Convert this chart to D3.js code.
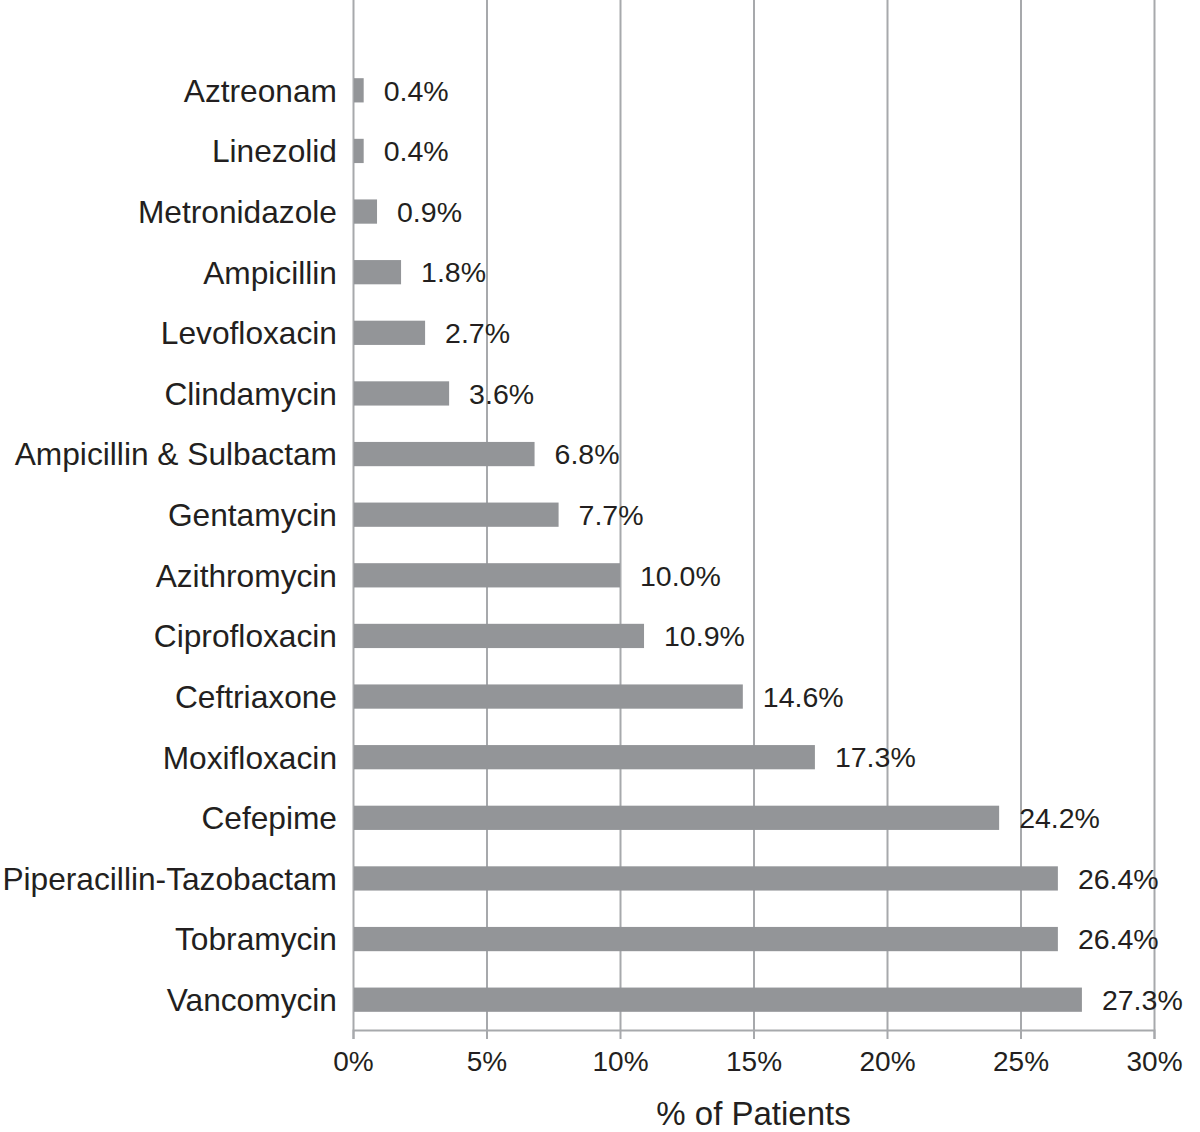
<!DOCTYPE html>
<html>
<head>
<meta charset="utf-8">
<script src="https://cdn.jsdelivr.net/npm/d3@7"></script>
<style>
  body { margin: 0; background: #fff; }
  svg { display: block; font-family: "Liberation Sans", Arial, Helvetica, sans-serif; }
</style>
</head>
<body>
<div id="vis"></div>
<script>
// Data: antibiotics, top to bottom
const DRUGS = ["Aztreonam", "Linezolid", "Metronidazole", "Ampicillin", "Levofloxacin",
               "Clindamycin", "Ampicillin & Sulbactam", "Gentamycin", "Azithromycin",
               "Ciprofloxacin", "Ceftriaxone", "Moxifloxacin", "Cefepime",
               "Piperacillin-Tazobactam", "Tobramycin", "Vancomycin"];
const PCT = [0.4, 0.4, 0.9, 1.8, 2.7, 3.6, 6.8, 7.7, 10.0, 10.9, 14.6, 17.3, 24.2, 26.4, 26.4, 27.3];
const X_TICKS = [0, 5, 10, 15, 20, 25, 30];
const X_TITLE = "% of Patients";

// Frame dimensions
const FRAME_HEIGHT = 1132;
const FRAME_WIDTH = 1200;
const MARGINS = {left: 353, right: 46, top: 60, bottom: 102};

const TEXT_COLOR = "#231f20";
const GRID_COLOR = "#a7a9ac";
const BAR_COLOR = "#939598";

const FRAME = d3.select("#vis")
                .append("svg")
                  .attr("width", FRAME_WIDTH)
                  .attr("height", FRAME_HEIGHT);

const rows = DRUGS.map((d, i) => ({drug: d, pct: PCT[i]}));

// Scales
const X_SCALE = d3.scaleLinear()
                  .domain([0, 30])
                  .range([MARGINS.left, FRAME_WIDTH - MARGINS.right]);

const Y_SCALE = d3.scaleBand()
                  .domain(DRUGS)
                  .range([MARGINS.top, FRAME_HEIGHT - MARGINS.bottom])
                  .paddingInner(0.6)
                  .paddingOuter(0.3);

const AXIS_Y = FRAME_HEIGHT - MARGINS.bottom;

// Vertical gridlines, running from the very top down to the axis
const grid = FRAME.append("g")
    .attr("transform", "translate(0," + AXIS_Y + ")")
    .call(d3.axisBottom(X_SCALE).tickValues(X_TICKS).tickSize(-AXIS_Y).tickFormat(""));
grid.select(".domain").remove();
grid.selectAll("line").attr("stroke", GRID_COLOR).attr("stroke-width", 2);

// Bars
FRAME.selectAll(".bar")
    .data(rows)
    .enter()
    .append("rect")
      .attr("class", "bar")
      .attr("x", X_SCALE(0) + 1)
      .attr("y", (d) => Y_SCALE(d.drug))
      .attr("width", (d) => X_SCALE(d.pct) - X_SCALE(0) - 1)
      .attr("height", Y_SCALE.bandwidth())
      .attr("fill", BAR_COLOR);

// Value labels
FRAME.selectAll(".val")
    .data(rows)
    .enter()
    .append("text")
      .attr("class", "val")
      .attr("x", (d) => X_SCALE(d.pct) + 20)
      .attr("y", (d) => Y_SCALE(d.drug) + Y_SCALE.bandwidth() / 2)
      .attr("dy", "0.36em")
      .attr("fill", TEXT_COLOR)
      .style("font-size", "28.5px")
      .text((d) => d.pct.toFixed(1) + "%");

// X axis with ticks below the line
const xAxis = FRAME.append("g")
    .attr("transform", "translate(0," + AXIS_Y + ")")
    .call(d3.axisBottom(X_SCALE).tickValues(X_TICKS).tickSize(9).tickPadding(12)
            .tickFormat((d) => d + "%"));
xAxis.select(".domain").attr("stroke", GRID_COLOR).attr("stroke-width", 2);
xAxis.selectAll("line").attr("stroke", GRID_COLOR).attr("stroke-width", 2);
xAxis.selectAll("text")
    .attr("fill", TEXT_COLOR)
    .style("font-size", "28px")
    .style("font-family", "'Liberation Sans', Arial, Helvetica, sans-serif");

// Y axis: only the category names
const yAxis = FRAME.append("g")
    .attr("transform", "translate(" + MARGINS.left + ",0)")
    .call(d3.axisLeft(Y_SCALE).tickSize(0).tickPadding(16));
yAxis.select(".domain").remove();
yAxis.selectAll("text")
    .attr("fill", TEXT_COLOR)
    .attr("dy", "0.36em")
    .style("font-size", "31.7px")
    .style("font-family", "'Liberation Sans', Arial, Helvetica, sans-serif");

// Axis title
FRAME.append("text")
    .attr("x", (X_SCALE(0) + X_SCALE(30)) / 2)
    .attr("y", 1125)
    .attr("text-anchor", "middle")
    .attr("fill", TEXT_COLOR)
    .style("font-size", "33px")
    .text(X_TITLE);
</script>
</body>
</html>
